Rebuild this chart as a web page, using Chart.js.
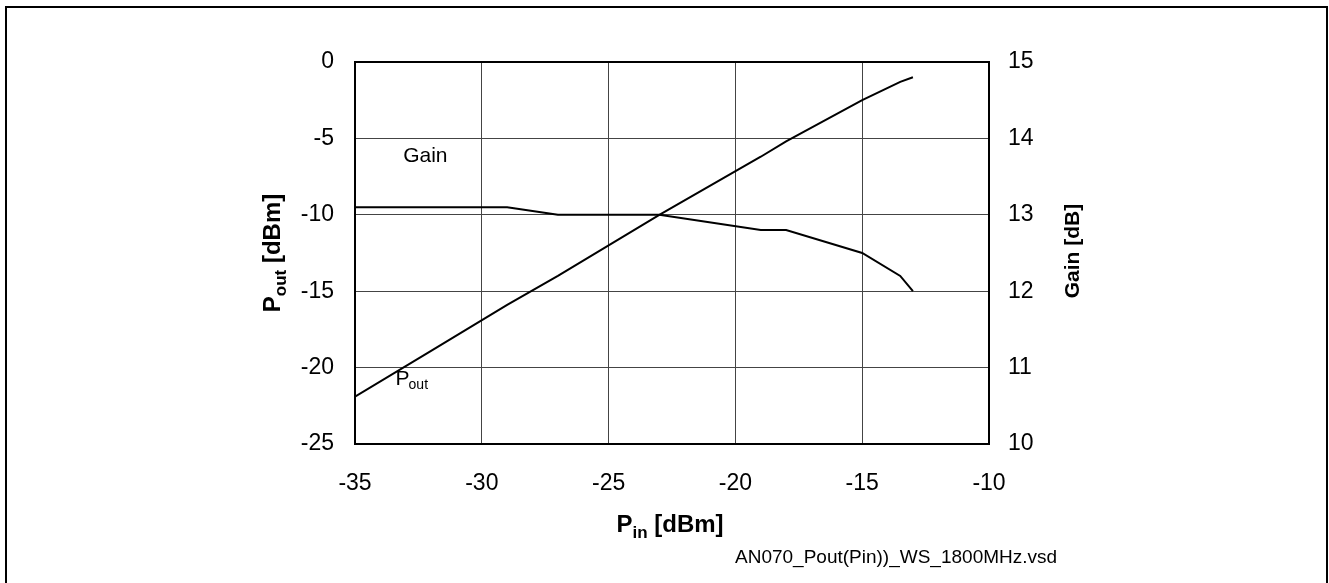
<!DOCTYPE html>
<html>
<head>
<meta charset="utf-8">
<script src="https://cdn.jsdelivr.net/npm/chart.js@4"></script>
<style>
  html, body { margin: 0; padding: 0; background: #fff; overflow: hidden; }
  #wrap { position: relative; width: 1329px; height: 583px; }
</style>
</head>
<body>
<div id="wrap"><canvas id="pout" width="1329" height="583"></canvas></div>
<script>
// values
var pinValues  = [-35, -32, -29, -27, -23, -19, -18, -15, -13.5, -13];
var poutValues = [-21.9, -18.9, -15.9, -14.0, -10.0, -6.2, -5.2, -2.5, -1.3, -1.0];
var gainValues = [13.1, 13.1, 13.1, 13.0, 13.0, 12.8, 12.8, 12.5, 12.2, 12.0];

var xTicks = [-35, -30, -25, -20, -15, -10];
var poutTicks = [-25, -20, -15, -10, -5, 0];
var gainTicks = [10, 11, 12, 13, 14, 15];

var FONT = "'Liberation Sans', Arial, sans-serif";

function toPoints(xs, ys) {
  return xs.map(function (x, i) { return { x: x, y: ys[i] }; });
}

// text drawn with subscripts, titles, frame
var extras = {
  id: 'extras',
  afterDraw: function (chart) {
    var ctx = chart.ctx;
    var a = chart.chartArea;
    var xs = chart.scales.x, ys = chart.scales.y;
    ctx.save();

    // outer frame (no bottom edge)
    ctx.strokeStyle = '#000';
    ctx.lineWidth = 2;
    ctx.beginPath();
    ctx.moveTo(6, 583);
    ctx.lineTo(6, 7);
    ctx.lineTo(1327, 7);
    ctx.lineTo(1327, 583);
    ctx.stroke();

    // plot frame
    ctx.lineWidth = 2;
    ctx.strokeRect(a.left, a.top, a.right - a.left, a.bottom - a.top);

    ctx.fillStyle = '#000';
    ctx.textBaseline = 'alphabetic';

    // label with subscript: parts = [[text, font, dy]]
    function drawParts(parts, cx, cy) {
      var w = 0;
      parts.forEach(function (p) { ctx.font = p[1]; w += ctx.measureText(p[0]).width; });
      var x = cx - w / 2;
      parts.forEach(function (p) {
        ctx.font = p[1];
        ctx.fillText(p[0], x, cy + p[2]);
        x += ctx.measureText(p[0]).width;
      });
    }

    var big = 'bold 24px ' + FONT, sub = 'bold 17px ' + FONT;

    // x axis title
    drawParts([['P', big, 0], ['in', sub, 6], [' [dBm]', big, 0]], 670, 532);

    // left title
    ctx.save();
    ctx.translate(280, 253);
    ctx.rotate(-Math.PI / 2);
    drawParts([['P', big, 0], ['out', sub, 6], [' [dBm]', big, 0]], 0, 0);
    ctx.restore();

    // right title
    ctx.save();
    ctx.translate(1079, 251);
    ctx.rotate(-Math.PI / 2);
    drawParts([['Gain [dB]', 'bold 21px ' + FONT, 0]], 0, 0);
    ctx.restore();

    // curve labels inside the plot
    ctx.textAlign = 'left';
    ctx.font = '21px ' + FONT;
    ctx.fillText('Gain', xs.getPixelForValue(-33.1), ys.getPixelForValue(-6.1) + 7);
    ctx.fillText('P', xs.getPixelForValue(-33.4), ys.getPixelForValue(-20.7) + 7);
    ctx.font = '14px ' + FONT;
    ctx.fillText('out', xs.getPixelForValue(-33.4) + 13, ys.getPixelForValue(-20.7) + 11);

    // file name
    ctx.font = '19px ' + FONT;
    ctx.fillText('AN070_Pout(Pin))_WS_1800MHz.vsd', 735, 563);

    ctx.restore();
  }
};

var ctx = document.getElementById('pout').getContext('2d');
var myChart = new Chart(ctx, {
  type: 'line',
  data: {
    datasets: [{
      label: 'Pout',
      data: toPoints(pinValues, poutValues),
      yAxisID: 'y',
      borderColor: '#000',
      borderWidth: 2,
      pointRadius: 0,
      tension: 0
    }, {
      label: 'Gain',
      data: toPoints(pinValues, gainValues),
      yAxisID: 'y1',
      borderColor: '#000',
      borderWidth: 2,
      pointRadius: 0,
      tension: 0
    }]
  },
  options: {
    responsive: false,
    animation: false,
    events: [],
    layout: { padding: { top: 62, left: 0, right: 0, bottom: 0 } },
    plugins: { legend: { display: false }, tooltip: { enabled: false } },
    scales: {
      x: {
        type: 'linear',
        min: -35, max: -10,
        afterBuildTicks: function (s) { s.ticks = xTicks.map(function (v) { return { value: v }; }); },
        afterFit: function (s) { s.height = 583 - 444; },
        grid: { color: '#444', lineWidth: 1, drawTicks: false },
        border: { display: false },
        ticks: { color: '#000', padding: 26, font: { family: FONT, size: 23 } }
      },
      y: {
        position: 'left',
        min: -25, max: 0,
        afterBuildTicks: function (s) { s.ticks = poutTicks.map(function (v) { return { value: v }; }); },
        afterFit: function (s) { s.width = 355; },
        grid: { color: '#444', lineWidth: 1, drawTicks: false },
        border: { display: false },
        ticks: { color: '#000', padding: 21, font: { family: FONT, size: 23 } }
      },
      y1: {
        position: 'right',
        min: 10, max: 15,
        afterBuildTicks: function (s) { s.ticks = gainTicks.map(function (v) { return { value: v }; }); },
        afterFit: function (s) { s.width = 1329 - 989; },
        grid: { display: false, drawTicks: false },
        border: { display: false },
        ticks: { color: '#000', padding: 19, font: { family: FONT, size: 23 } }
      }
    }
  },
  plugins: [extras]
});
</script>
</body>
</html>
